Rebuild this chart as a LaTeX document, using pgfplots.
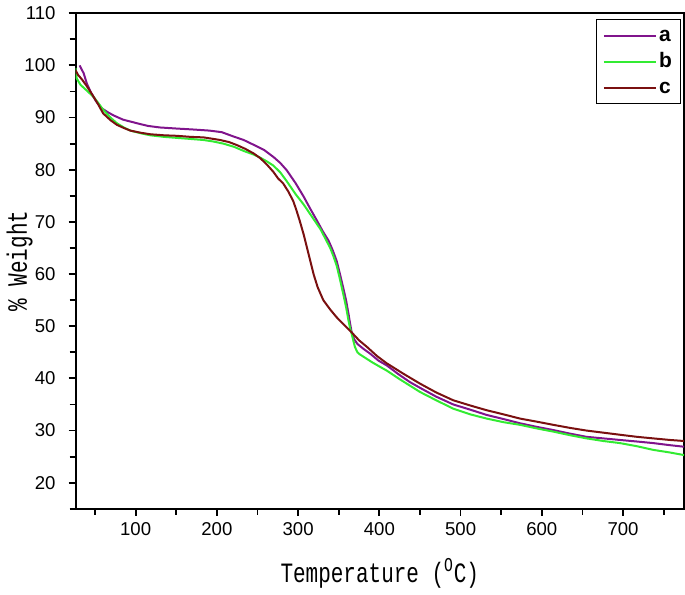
\documentclass[border=0pt]{standalone}
\usepackage{fontspec}
\setmainfont{Liberation Sans}
\newfontfamily\labelfont{Liberation Mono}
\usepackage{pgfplots}
\pgfplotsset{compat=1.18}

\definecolor{cA}{RGB}{128,20,140}
\definecolor{cB}{RGB}{50,235,50}
\definecolor{cC}{RGB}{122,16,16}

\newcommand{\lbl}[1]{\scalebox{0.75}[1]{\labelfont\fontsize{14}{16}\selectfont #1}}

\begin{document}
\begin{tikzpicture}
\begin{axis}[
    scale only axis,
    width=304.5pt, height=248pt,
    xmin=26, xmax=775, ymin=15, ymax=110,
    xtick={100,200,...,700}, minor xtick={50,150,...,750},
    ytick={20,30,...,110}, minor ytick={15,25,...,105},
    tick pos=left, tick align=outside,
    major tick length=3.5pt, minor tick length=3pt,
    every tick/.style={black, line width=0.9pt},
    axis line style={line width=1pt},
    tick label style={font=\fontsize{9.3}{11}\selectfont},
    yticklabel style={xshift=-3pt},
    /pgf/number format/assume math mode=true,
    xlabel={\lbl{Temperature (\textsuperscript{O}C)}},
    ylabel={\lbl{\% Weight}},
    xlabel style={yshift=-4.5pt},
    ylabel style={yshift=-11pt},
    legend style={at={(rel axis cs:0.995,0.988)}, anchor=north east,
        draw=black, line width=0.6pt, font=\bfseries\fontsize{10.5}{12}\selectfont,
        row sep=2pt, inner xsep=3pt, inner ysep=2.5pt,
        nodes={inner xsep=1.2pt, inner ysep=1pt, text height=7.5pt, text depth=1.5pt}},
    legend cell align=left,
    legend image code/.code={\draw[#1, line width=1pt] (0pt,0pt) -- (26pt,0pt);},
    every axis plot/.append style={line width=1pt},
]
\addplot[cA] coordinates {
(31,100)(36,98.5)(40,96.5)(45,94.8)(51,93.2)(58,91.8)(66,91)(73,90.4)(84.5,89.6)(102,88.9)
(115,88.4)(130,88.1)(150,87.9)(172,87.7)(191,87.5)(206,87.2)(220,86.4)(233,85.7)(245,84.8)
(258,83.8)(270,82.4)(278,81.3)(286,79.9)(297,77.4)(307,74.8)(315,72.5)(323,70.3)(330,68.3)
(337.5,66.4)(342.5,64.6)(347.5,62.5)(351.5,60)(355.5,57.4)(359,55)(362,52.4)(364,50.5)(366,48.8)
(369,47.5)(373,46.6)(381,45.6)(389,44.7)(399,43.4)(409,42.5)(423.5,40.8)(437.5,39.3)(450,38.2)
(470,36.5)(491,35)(512,34)(532,33)(553,32.2)(573,31.4)(594,30.7)(614,30.1)(635,29.4)
(655,28.8)(675.5,28.5)(696,28.2)(717,27.9)(737,27.6)(757.5,27.2)(775,26.9)};
\addlegendentry{a}
\addplot[cB] coordinates {
(26,99.5)(27.5,97.5)(32,96.3)(39,95.3)(48,94)(54,92.8)(60,91.5)(69,90)(77,88.9)(85.5,88.1)
(93.5,87.5)(106,87)(118,86.6)(135,86.3)(151,86.1)(167.5,85.9)(183.5,85.7)(196,85.4)(208,85)
(221,84.4)(233,83.6)(245.5,82.9)(253.5,82.3)(261.5,81.6)(269.5,80.8)(278,79.5)(286,77.8)(297,75.3)
(307,73.3)(317,71)(327.5,68.6)(333.5,66.8)(339.5,65)(343.5,63.4)(347.5,61.6)(351.5,59)(355.5,56.2)
(359,53.7)(362,51.1)(364,49.6)(366,48.5)(368,47.2)(370,46)(373,45)(376,44.6)(381,44.1)
(391,43.1)(401,42.2)(409,41.5)(425.5,39.8)(450,37.4)(470,35.8)(491,34.2)(512,33.1)(532,32.3)
(553,31.6)(573,31.1)(594,30.4)(614,29.8)(635,29.1)(655,28.5)(675.5,28)(696,27.6)(717,27)
(737,26.3)(757.5,25.8)(775,25.3)};
\addlegendentry{b}
\addplot[cC] coordinates {
(26,99.1)(29,98.2)(34,97.3)(40,96)(47,94.3)(54,92.5)(60,90.8)(69,89.5)(77,88.6)(85.5,88)
(93.5,87.5)(106,87.1)(118,86.8)(135,86.6)(151,86.5)(167.5,86.3)(183.5,86.2)(196,85.9)(204,85.7)
(215,85.3)(225,84.7)(235,84)(245.5,83.1)(253.5,82.2)(261.5,81)(269.5,79.6)(275.5,78.3)(281.5,77.4)
(288,75.8)(294,74)(298,72.2)(302,70.2)(307,67.5)(311,65)(315,62.5)(319,60)(324,57.5)
(331,55)(339.5,53.2)(347.5,51.7)(357,50.2)(366,48.8)(375,47.3)(385,46)(397,44.3)(409,42.9)
(429.5,40.9)(450,39)(470,37.3)(491,35.8)(512,34.8)(532,33.9)(553,33.1)(573,32.3)(594,31.7)
(614,31.1)(635,30.5)(655,30)(675.5,29.6)(696,29.2)(717,28.8)(737,28.5)(757.5,28.2)(775,28)};
\addlegendentry{c}
\end{axis}
\end{tikzpicture}
\end{document}
